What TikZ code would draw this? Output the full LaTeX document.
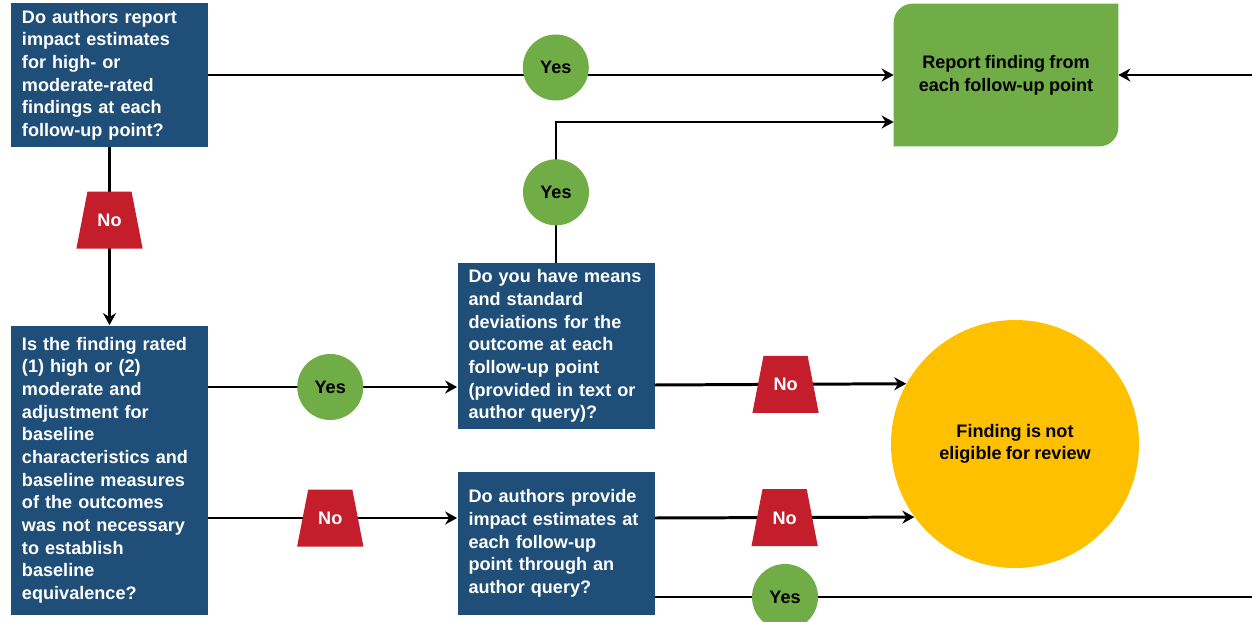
\documentclass[tikz,border=0pt]{standalone}
\usepackage{fontspec}
\setmainfont[WordSpace=0.85]{Liberation Sans}
\usetikzlibrary{positioning,shapes.geometric,arrows.meta,backgrounds}

\definecolor{qblue}{RGB}{31,78,121}
\definecolor{okgreen}{RGB}{112,173,71}
\definecolor{nored}{RGB}{196,30,45}
\definecolor{finyellow}{RGB}{255,192,0}

\tikzset{
  ask/.style={rectangle, fill=qblue, text=white, text width=3.5cm, inner xsep=0.22cm,
    inner ysep=0pt, align=left, font=\bfseries\fontsize{10.3}{12.9}\selectfont},
  yesdot/.style={circle, fill=okgreen, minimum size=1.32cm, inner sep=0pt,
    font=\bfseries\fontsize{10.3}{12.9}\selectfont},
  notrap/.style={trapezium, trapezium left angle=79, trapezium right angle=79,
    fill=nored, text=white, text height=0.26cm, text depth=0pt,
    inner xsep=0.2cm, inner ysep=0.44cm, font=\bfseries\fontsize{10.3}{12.9}\selectfont},
  arrowline/.style={line width=1.7pt, -{Stealth[length=0.24cm,width=0.26cm]}},
  bareline/.style={line width=1.7pt}
}

\begin{document}
\begin{tikzpicture}[on grid]
   \useasboundingbox (-2.19,1.5) rectangle (22.85,-10.94);

   % questions
   \node[ask, minimum height=2.88cm] (q1) at (0,0)
     {Do authors report\\impact estimates\\for high- or\\moderate-rated\\findings at each\\follow-up point?};
   \node[ask, minimum height=5.78cm] (q2) [below=7.9cm of q1]
     {Is the finding rated\\(1) high or (2)\\moderate and\\adjustment for\\baseline\\characteristics and\\baseline measures\\of the outcomes\\was not necessary\\to establish\\baseline\\equivalence?};
   \node[ask, minimum height=3.32cm] (q3) [below right=5.42cm and 8.93cm of q1]
     {Do you have means\\and standard\\deviations for the\\outcome at each\\follow-up point\\(provided in text or\\author query)?};
   \node[ask, minimum height=2.86cm] (q4) [below=3.95cm of q3]
     {Do authors provide\\impact estimates at\\each follow-up\\point through an\\author query?};

   % outcomes
   \node[minimum width=4.48cm, minimum height=2.84cm, align=center,
     font=\bfseries\fontsize{10.3}{12.9}\selectfont] (report) [right=17.93cm of q1]
     {Report finding from\\each follow-up point};
   \begin{scope}[on background layer]
     \fill[okgreen] ([xshift=0.38cm]report.north west) -- (report.north east)
       -- ([yshift=0.38cm]report.south east) arc[start angle=0,end angle=-90,radius=0.38cm]
       -- (report.south west) -- ([yshift=-0.38cm]report.north west)
       arc[start angle=180,end angle=90,radius=0.38cm] -- cycle;
   \end{scope}
   \node[circle, fill=finyellow, minimum size=4.96cm, inner sep=0pt, align=center,
     font=\bfseries\fontsize{10.3}{12.9}\selectfont] (fin) [below right=1.96cm and 9.18cm of q3]
     {Finding is not\\eligible for review};

   \coordinate[right=4.92cm of report] (inR);
   \coordinate (q2yes) at ([yshift=1.66cm]q2.east);
   \coordinate (q2no) at ([yshift=-0.96cm]q2.east);
   \coordinate (q3no) at ([yshift=-0.78cm]q3.east);
   \coordinate (q4no) at ([yshift=0.51cm]q4.east);
   \coordinate (q4yes) at ([yshift=-1.07cm]q4.east);
   \coordinate (outR) at (q4yes -| inR);

   % connectors
   \draw[arrowline] (q1) -- node[yesdot, pos=0.507, yshift=0.15cm] (y1) {Yes} (report);
   \draw[arrowline] (inR) -- (report);
   \draw[arrowline] (q3) |- node[yesdot, pos=0.25] (y2) {Yes} ([yshift=-0.94cm]report.west);
   \draw[arrowline] (q1) -- node[notrap, pos=0.41] (n1) {No} (q2);
   \draw[arrowline] (q2yes) -- node[yesdot, pos=0.49] (y3) {Yes} (q2yes -| q3.west);
   \draw[arrowline] (q2no) -- node[notrap, pos=0.49] (n2) {No} (q2no -| q4.west);
   \draw[arrowline] (q3no) -- node[notrap, pos=0.52] (n3) {No} (fin.151.6);
   \draw[arrowline] (q4no) -- node[notrap, pos=0.5] (n4) {No} (fin.216.6);
   \draw[bareline] (q4yes) -- node[yesdot, pos=0.218] (y4) {Yes} (outR);
\end{tikzpicture}
\end{document}
